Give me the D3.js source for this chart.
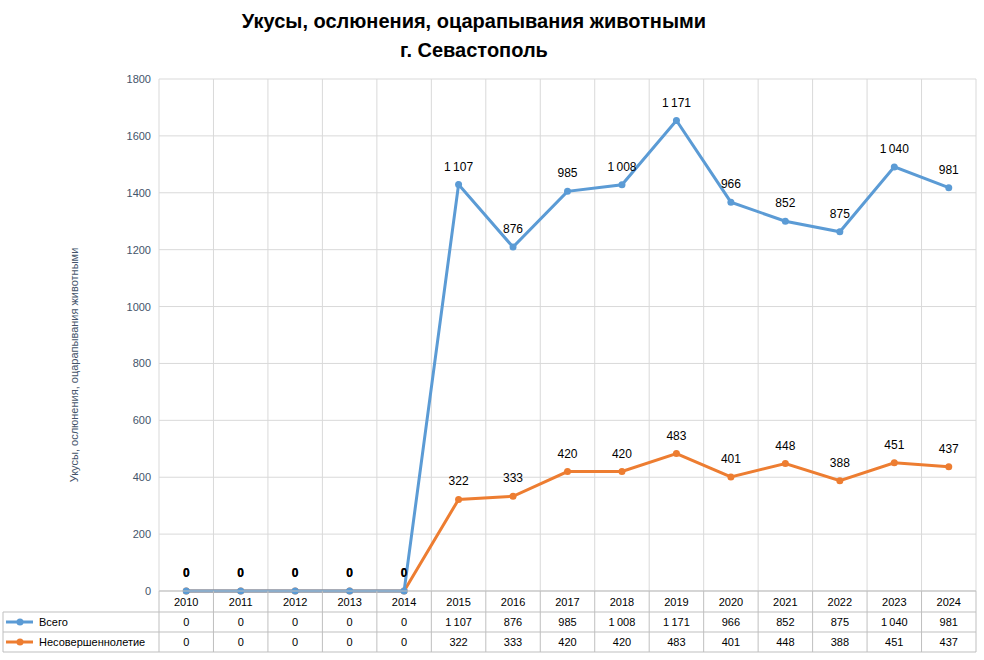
<!DOCTYPE html><html><head><meta charset="utf-8">
<script src="https://cdn.jsdelivr.net/npm/d3@7"></script>
<style>body{margin:0;background:#fff}text{font-family:"Liberation Sans",Arial,sans-serif}</style></head><body>
<svg id="c" width="984" height="660"></svg>
<script>
const years=["2010","2011","2012","2013","2014","2015","2016","2017","2018","2019","2020","2021","2022","2023","2024"];
const total=[0,0,0,0,0,1107,876,985,1008,1171,966,852,875,1040,981];
const minors=[0,0,0,0,0,322,333,420,420,483,401,448,388,451,437];
const yTicks=[0,200,400,600,800,1000,1200,1400,1600,1800];
const fmt=v=>v>=1000?Math.floor(v/1000)+"\u202F"+String(v%1000).padStart(3,"0"):String(v);
const svg=d3.select("#c");
const L=159,R=976,T=79,B=591;
const x=d3.scaleBand().domain(years).range([L,R]);
const y=d3.scaleLinear().domain([0,1800]).range([B,T]);
const cx=d=>x(d)+x.bandwidth()/2;
svg.selectAll(".hg").data(yTicks).enter().append("line").attr("x1",L).attr("x2",R).attr("y1",d=>y(d)).attr("y2",d=>y(d)).attr("stroke","#d9d9d9");
svg.selectAll(".vg").data(years.concat(["end"])).enter().append("line").attr("x1",(d,i)=>L+i*x.bandwidth()).attr("x2",(d,i)=>L+i*x.bandwidth()).attr("y1",T).attr("y2",B).attr("stroke","#d9d9d9");
svg.selectAll(".yt").data(yTicks).enter().append("text").attr("x",L-8).attr("y",d=>y(d)+4).attr("text-anchor","end").attr("font-size",11).attr("fill","#44546a").text(d=>d);
svg.append("text").attr("x",474).attr("y",28).attr("text-anchor","middle").attr("font-size",20).attr("font-weight","bold").text("Укусы, ослюнения, оцарапывания животными");
svg.append("text").attr("x",474).attr("y",57).attr("text-anchor","middle").attr("font-size",20).attr("font-weight","bold").text("г. Севастополь");
svg.append("text").attr("transform","translate(78,365) rotate(-90)").attr("text-anchor","middle").attr("font-size",11).attr("fill","#44546a").text("Укусы, ослюнения, оцарапывания животными");
const stacked=total.map((v,i)=>v+minors[i]);
const series=[{vals:minors,plot:minors,color:"#ed7d31"},{vals:total,plot:stacked,color:"#5b9bd5"}];
const line=d3.line().x((d,i)=>cx(years[i])).y(d=>y(d));
series.forEach(s=>{
 svg.append("path").attr("d",line(s.plot)).attr("fill","none").attr("stroke",s.color).attr("stroke-width",3);
 svg.selectAll(null).data(s.plot).enter().append("circle").attr("cx",(d,i)=>cx(years[i])).attr("cy",d=>y(d)).attr("r",3.5).attr("fill",s.color);
 svg.selectAll(null).data(s.vals).enter().append("text").attr("x",(d,i)=>cx(years[i])).attr("y",(d,i)=>y(s.plot[i])-14).attr("text-anchor","middle").attr("font-size",12).attr("font-weight",(d)=>d===0?"bold":"normal").attr("fill","#000").text(d=>fmt(d));
});
const tl="#bfbfbf";
svg.append("line").attr("x1",L).attr("x2",R).attr("y1",B).attr("y2",B).attr("stroke",tl);
[612,632,652].forEach(r=>svg.append("line").attr("x1",3).attr("x2",R).attr("y1",r).attr("y2",r).attr("stroke",tl));
years.concat(["e"]).forEach((d,i)=>svg.append("line").attr("x1",L+i*x.bandwidth()).attr("x2",L+i*x.bandwidth()).attr("y1",B).attr("y2",652).attr("stroke",tl));
svg.append("line").attr("x1",3).attr("x2",3).attr("y1",612).attr("y2",652).attr("stroke",tl);
svg.selectAll(null).data(years).enter().append("text").attr("x",d=>cx(d)).attr("y",606).attr("text-anchor","middle").attr("font-size",11).text(d=>d);
[[total,"#5b9bd5","Всего",626],[minors,"#ed7d31","Несовершеннолетие",646]].forEach(([vals,c,name,yy])=>{
 svg.append("line").attr("x1",6).attr("x2",33).attr("y1",yy-4).attr("y2",yy-4).attr("stroke",c).attr("stroke-width",3);
 svg.append("circle").attr("cx",20).attr("cy",yy-4).attr("r",3.5).attr("fill",c);
 svg.append("text").attr("x",39).attr("y",yy).attr("font-size",11).text(name);
 svg.selectAll(null).data(vals).enter().append("text").attr("x",(d,i)=>cx(years[i])).attr("y",yy).attr("text-anchor","middle").attr("font-size",11).text(d=>fmt(d));
});
</script></body></html>
